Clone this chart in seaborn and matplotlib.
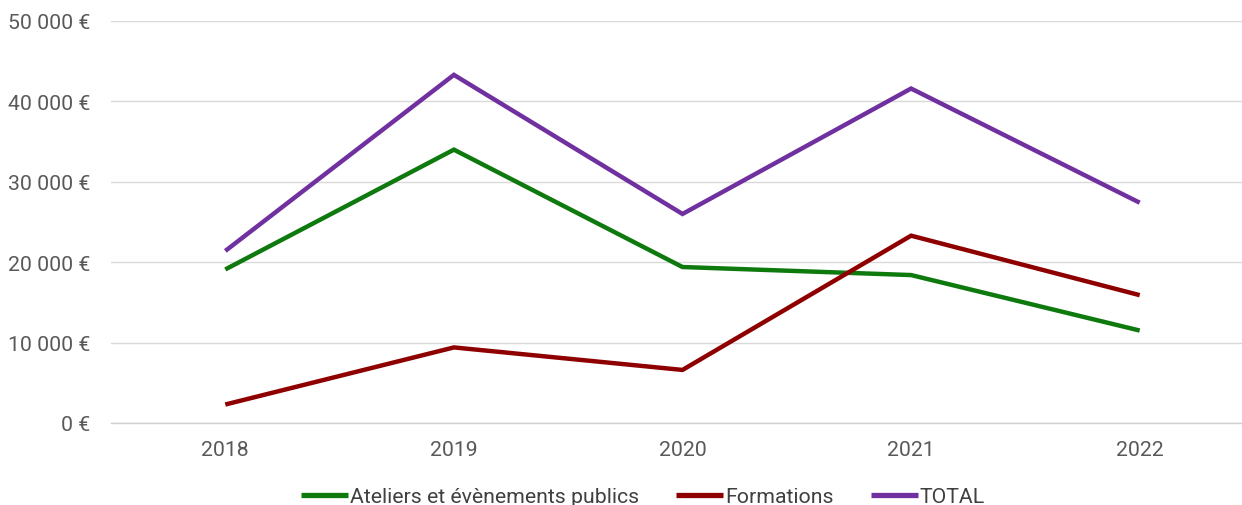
import matplotlib
matplotlib.use("Agg")
import matplotlib.pyplot as plt
import seaborn as sns
import pandas as pd
import numpy as np
from matplotlib.ticker import FuncFormatter, FixedLocator

years = ["2018", "2019", "2020", "2021", "2022"]
ateliers = [19100, 34000, 19400, 18400, 11500]
formations = [2300, 9400, 6600, 23300, 15900]
total = [21400, 43300, 26000, 41600, 27400]
series_names = ["Ateliers et évènements publics", "Formations", "TOTAL"]
colors = ["#0E7A0E", "#8E0000", "#7030A0"]
y_ticks = [0, 10000, 20000, 30000, 40000, 50000]

rows = []
for name, vals in zip(series_names, [ateliers, formations, total]):
    for y, v in zip(years, vals):
        rows.append({"Année": y, "Montant": v, "Série": name})
df = pd.DataFrame(rows)

sns.set_theme(style="white")
plt.rcParams["font.family"] = ["Roboto", "DejaVu Sans"]

W, H = 1242, 506
fig = plt.figure(figsize=(W / 100, H / 100), dpi=100)
left, right, top, bottom = 111, 1254, 22, 424
ax = fig.add_axes([left / W, (H - bottom) / H, (right - left) / W, (bottom - top) / H])

sns.lineplot(data=df, x="Année", y="Montant", hue="Série", hue_order=series_names,
             palette=colors, linewidth=3.2, ax=ax, sort=False, legend=True)
for ln in ax.lines:
    ln.set_solid_joinstyle("miter")
    ln.set_solid_capstyle("butt")

ax.set_xlim(-0.5, len(years) - 0.5)
ax.set_ylim(0, 50000)
ax.yaxis.set_major_locator(FixedLocator(y_ticks))

def fmt(v, pos):
    s = f"{int(v):,}".replace(",", " ")
    return f"{s} €"
ax.yaxis.set_major_formatter(FuncFormatter(fmt))

ax.grid(axis="y", color="#D9D9D9", linewidth=1.0)
ax.grid(axis="x", visible=False)
ax.set_axisbelow(True)
for s in ["top", "right", "left"]:
    ax.spines[s].set_visible(False)
ax.spines["bottom"].set_color("#D0D0D0")
ax.spines["bottom"].set_linewidth(1.0)

ax.set_xticks(range(len(years)))
ax.set_xticklabels(years)
ax.set_xticks(np.arange(-0.5, len(years), 1.0), minor=True)
ax.tick_params(axis="x", which="major", length=0, pad=12, labelsize=15.3, labelcolor="#595959")
ax.tick_params(axis="x", which="minor", length=6, width=1, color="#D0D0D0", direction="out")
ax.tick_params(axis="y", length=0, pad=15, labelsize=15.3, labelcolor="#595959")
ax.set_xlabel("")
ax.set_ylabel("")

handles, labels = ax.get_legend_handles_labels()
ax.get_legend().remove()
leg = fig.legend(handles, labels, loc="center", bbox_to_anchor=(643 / W, 8 / H), ncol=3,
                 frameon=False, fontsize=15.3, handlelength=2.2, handletextpad=0.1,
                 columnspacing=1.75, labelcolor="#404040")
for h in leg.legend_handles:
    h.set_linewidth(3.8)

fig.savefig("out.png", dpi=100)
